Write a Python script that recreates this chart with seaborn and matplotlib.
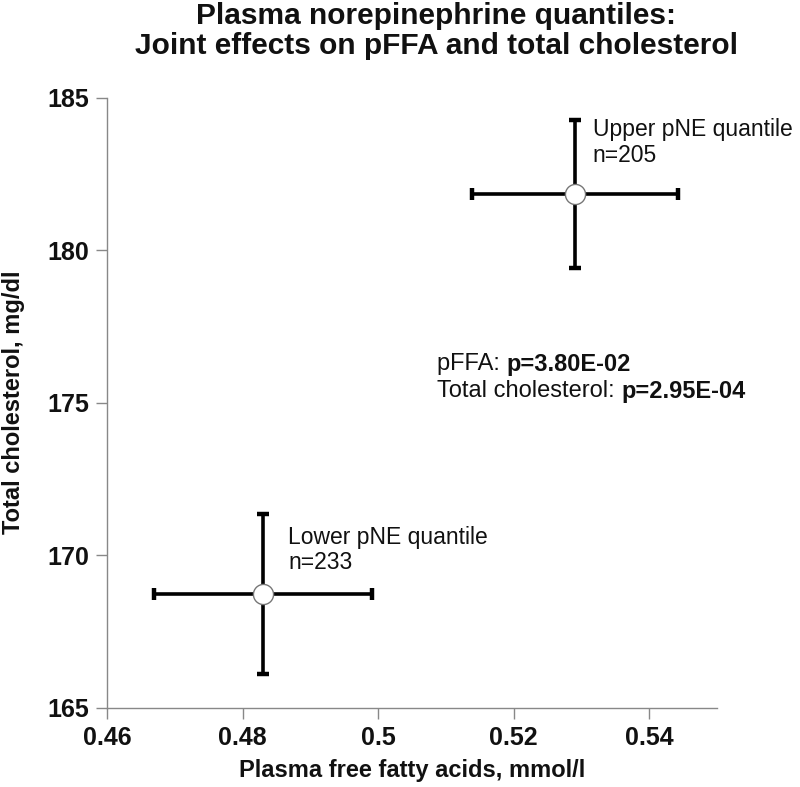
import matplotlib
matplotlib.use("Agg")
import matplotlib.pyplot as plt
import seaborn as sns
import pandas as pd

# data
groups = ["Lower pNE quantile", "Upper pNE quantile"]
n_sizes = [233, 205]
ffa_mean = [0.483, 0.529]
ffa_err = [0.0161, 0.0152]
chol_mean = [168.72, 181.83]
chol_err = [2.63, 2.42]
p_labels = ["pFFA: ", "Total cholesterol: "]
p_values = ["p=3.80E-02", "p=2.95E-04"]
x_ticks = [0.46, 0.48, 0.50, 0.52, 0.54]
x_tick_labels = ["0.46", "0.48", "0.5", "0.52", "0.54"]
y_ticks = [165, 170, 175, 180, 185]

df = pd.DataFrame({"group": groups, "n": n_sizes, "ffa": ffa_mean,
                   "ffa_err": ffa_err, "chol": chol_mean, "chol_err": chol_err})

sns.set_theme(style="white")
plt.rcParams["font.family"] = ["Liberation Sans", "DejaVu Sans"]

fig = plt.figure(figsize=(8, 7.87), dpi=100)
ax = fig.add_axes([0.134, 0.101, 0.762, 0.775])

# error bars first, then open circle markers on top
ax.errorbar(df["ffa"], df["chol"], xerr=df["ffa_err"], yerr=df["chol_err"],
            fmt="none", ecolor="black", elinewidth=2.6, capsize=4.5, capthick=3.2, zorder=2)
sns.scatterplot(data=df, x="ffa", y="chol", s=210, color="white",
                edgecolor="#777777", linewidth=1.0, zorder=3, ax=ax, legend=False)

# group labels
offsets = [(25, 44), (18, 52)]
for (_, row), (dx, dy) in zip(df.iterrows(), offsets):
    ax.annotate(f"{row['group']}\nn={row['n']}", xy=(row["ffa"], row["chol"]),
                xytext=(dx, dy), textcoords="offset pixels", ha="left", va="center",
                fontsize=16.5, linespacing=1.15, color="#111111")

# p-values, label normal + value bold
p_pos = [(0.5087, 176.26), (0.5087, 175.37)]
for lab, val, (px, py) in zip(p_labels, p_values, p_pos):
    t = ax.text(px, py, lab, fontsize=17, va="center", ha="left", color="#111111")
    ax.annotate(val, xy=(1, 0.5), xycoords=t, va="center", ha="left",
                fontsize=17, fontweight="bold", color="#111111")

ax.set_xlim(0.46, 0.55)
ax.set_ylim(165, 185)
ax.set_xticks(x_ticks)
ax.set_xticklabels(x_tick_labels)
ax.set_yticks(y_ticks)
for lbl in ax.get_xticklabels() + ax.get_yticklabels():
    lbl.set_fontweight("bold")
    lbl.set_fontsize(18)
    lbl.set_color("#111111")

ax.tick_params(axis="both", direction="out", length=8, width=1, color="#888888",
               bottom=True, left=True, pad=5)
sns.despine(ax=ax)
for sp in ["left", "bottom"]:
    ax.spines[sp].set_color("#888888")
    ax.spines[sp].set_linewidth(1)

ax.set_xlabel("Plasma free fatty acids, mmol/l", fontsize=17, fontweight="bold",
              labelpad=7, color="#111111")
ax.set_ylabel("Total cholesterol, mg/dl", fontsize=17, fontweight="bold",
              labelpad=16, color="#111111")

fig.text(0.545, 0.9606, "Plasma norepinephrine quantiles:\nJoint effects on pFFA and total cholesterol",
         ha="center", va="center", fontsize=21.5, fontweight="bold", linespacing=1.12, color="#111111")

fig.savefig("out.png", dpi=100, facecolor="white")
